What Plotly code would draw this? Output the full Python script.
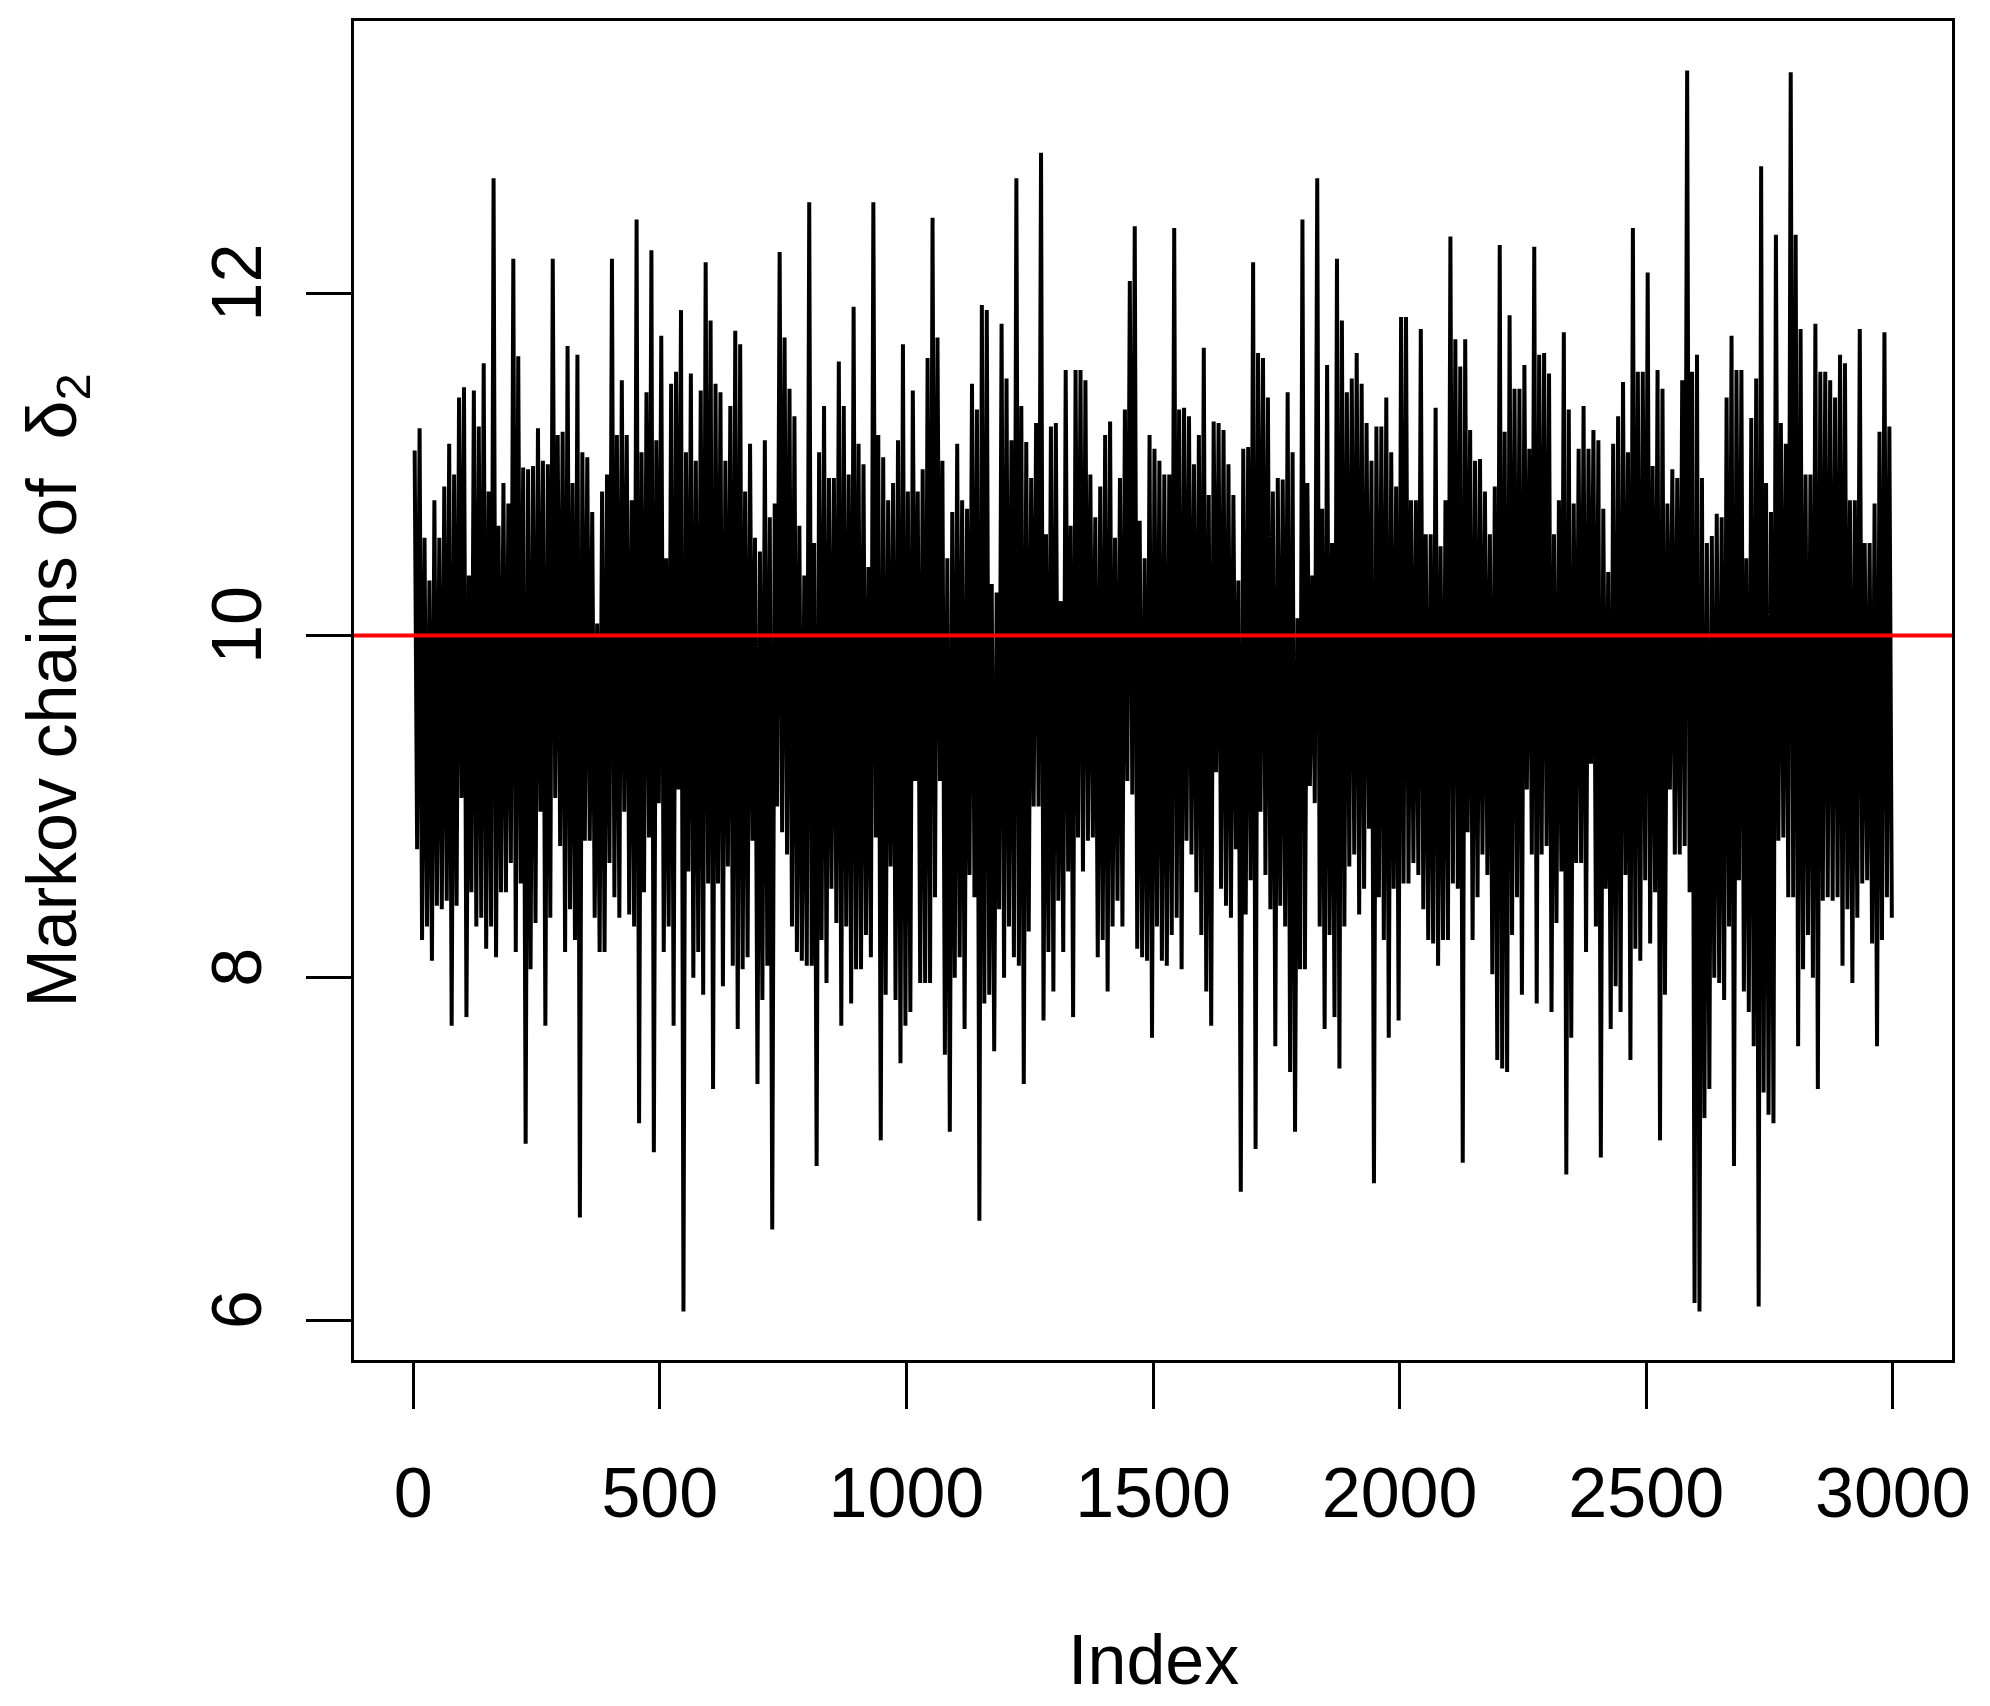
import plotly.graph_objects as go

# Upper excursions (one per block of 10 iterations)
chain_high = [
    11.08, 11.21, 10.57, 10.32, 10.79, 10.57, 10.87, 11.12, 10.94, 11.39,
    11.45, 10.35, 11.43, 11.22, 11.59, 10.84, 12.67, 10.64, 10.89, 10.77,
    12.20, 11.63, 10.98, 10.97, 10.99, 11.21, 11.02, 11.00, 12.20, 11.17,
    11.19, 11.69, 10.89, 11.64, 11.07, 11.04, 10.72, 10.07,
    10.84, 10.94, 12.20, 11.17, 11.49, 11.17, 10.79, 12.43, 11.07, 11.42,
    12.25, 11.14, 11.75, 10.45, 11.47, 11.54, 11.90, 11.07, 11.53, 11.02,
    11.43, 12.18, 11.84, 11.47, 11.42, 11.02, 11.34, 11.78, 11.70, 10.84,
    11.12, 10.57, 10.49, 11.14, 10.69, 10.77, 12.24, 11.74,
    11.44, 11.28, 10.64, 10.35, 12.53, 10.54, 11.07, 11.34, 10.92, 10.92,
    11.60, 11.34, 10.94, 11.92, 11.12, 11.00, 10.40, 12.53, 11.17, 11.04,
    10.79, 10.89, 11.14, 11.70, 10.84, 11.43, 10.84, 10.97, 11.62, 12.44,
    11.74, 11.02, 10.45, 10.72, 11.12, 10.79, 10.74, 11.47,
    11.32, 11.93, 11.90, 10.30, 10.25, 11.82, 11.50, 11.14, 12.67, 11.34,
    11.13, 10.92, 11.24, 12.82, 10.59, 11.22, 11.24, 10.20, 11.55, 10.64,
    11.55, 11.55, 11.49, 10.94, 10.69, 10.87, 11.17, 11.25, 10.57, 10.92,
    11.32, 12.07, 12.39, 10.67, 10.45, 11.17, 11.09, 11.02, 10.94,
    10.94, 12.38, 11.32, 11.33, 11.28, 11.00, 11.17, 11.68, 10.82, 11.25,
    11.24, 11.20, 11.00, 10.82, 10.32, 11.09, 11.10, 12.18, 11.65, 11.62,
    11.39, 10.84, 10.92, 10.91, 11.42, 11.07, 10.10, 12.43, 10.89, 10.35,
    12.67, 10.74, 11.58, 10.54, 12.20, 11.84, 11.42, 11.50, 11.65,
    11.47, 11.24, 11.02, 11.22, 11.22, 11.39, 11.07, 10.87, 11.86, 11.86,
    10.79, 10.79, 11.79, 10.59, 10.59, 11.33, 10.52, 10.79, 12.33, 11.73,
    11.57, 11.73, 11.20, 11.02, 11.03, 10.84, 10.59, 10.87, 12.28, 11.19,
    11.87, 11.44, 11.44, 11.58, 11.09, 12.27, 11.64, 11.65,
    11.53, 10.59, 10.79, 11.77, 11.32, 10.77, 11.09, 11.34, 11.09, 11.20,
    11.14, 10.74, 10.37, 11.12, 11.28, 11.48, 11.07, 12.38, 11.54, 11.54,
    12.12, 10.99, 11.55, 11.44, 10.77, 10.97, 10.92, 11.49, 13.30, 11.54,
    11.64, 10.92, 10.54, 10.58, 10.71, 10.69, 11.39, 11.75, 11.55,
    11.55, 10.45, 11.27, 11.50, 12.74, 10.89, 10.72, 12.34, 11.24, 11.12,
    13.29, 12.34, 11.79, 10.94, 10.94, 11.82, 11.54, 11.54, 11.49, 11.39,
    11.64, 11.59, 10.79, 10.79, 11.79, 10.54, 10.54, 10.77, 11.19, 11.77,
    11.22,
]

# Lower excursions (one per block of 10 iterations)
chain_low = [
    8.75, 8.22, 8.30, 8.10, 8.42, 8.40, 8.45, 7.72, 8.42, 9.05,
    7.77, 8.50, 8.30, 8.35, 8.17, 8.30, 8.12, 8.50, 8.50, 8.67,
    8.15, 8.55, 7.03, 8.05, 8.32, 8.97, 7.72, 8.35, 9.05, 8.77,
    8.15, 8.40, 8.22, 6.60, 8.80, 8.80, 8.35, 8.15,
    8.15, 8.67, 8.47, 8.35, 8.97, 8.37, 8.30, 7.15, 8.50, 8.82,
    6.98, 9.02, 8.15, 8.30, 7.72, 9.10, 6.05, 8.62, 8.00, 8.15,
    7.90, 8.55, 7.35, 8.55, 7.95, 8.65, 8.07, 7.70, 8.05, 8.12,
    8.80, 7.38, 7.87, 8.07, 6.53, 9.00, 8.85, 8.72,
    8.30, 8.15, 8.10, 8.07, 8.07, 6.90, 8.22, 7.97, 8.52, 8.32,
    7.72, 8.30, 7.85, 8.05, 8.05, 8.25, 8.12, 8.82, 7.05, 7.90,
    8.65, 7.87, 7.50, 7.72, 7.80, 9.15, 7.97, 7.97, 7.97, 8.47,
    9.15, 7.55, 7.10, 8.00, 8.12, 7.70, 8.60, 8.47,
    6.58, 7.85, 7.90, 7.57, 8.40, 8.00, 8.30, 8.12, 8.07, 7.38,
    8.27, 9.00, 9.00, 7.75, 8.15, 7.92, 8.45, 8.15, 8.62, 7.77,
    8.82, 8.62, 8.80, 8.82, 8.12, 8.22, 7.92, 8.30, 8.45, 8.30,
    9.15, 9.07, 8.17, 8.12, 8.10, 7.65, 8.30, 8.10, 8.07,
    8.25, 8.35, 8.05, 8.80, 8.72, 8.50, 8.25, 7.92, 7.72, 9.20,
    8.52, 8.42, 8.35, 8.75, 6.75, 8.37, 8.57, 7.00, 8.97, 8.60,
    8.40, 7.60, 8.42, 8.30, 7.45, 7.10, 8.05, 8.05, 9.12, 9.02,
    8.30, 7.70, 8.25, 7.77, 7.47, 8.30, 8.65, 8.72, 8.37,
    8.52, 8.87, 6.80, 8.47, 8.22, 7.65, 8.52, 7.75, 8.55, 8.55,
    8.67, 8.60, 8.40, 8.22, 8.20, 8.07, 8.22, 8.22, 8.55, 8.52,
    6.92, 8.85, 8.22, 8.47, 8.72, 8.60, 8.02, 7.52, 7.47, 7.45,
    8.25, 8.47, 7.90, 9.10, 8.72, 7.85, 8.72, 8.77,
    7.80, 8.32, 8.62, 6.85, 7.65, 8.67, 8.67, 8.15, 9.25, 8.30,
    6.95, 8.52, 7.70, 7.95, 7.80, 8.60, 7.52, 8.17, 8.10, 8.57,
    8.20, 8.50, 7.05, 7.90, 9.10, 8.72, 8.72, 8.77, 8.50, 6.10,
    6.05, 7.18, 7.35, 8.00, 7.97, 7.87, 8.30, 6.90, 8.57,
    7.92, 7.80, 7.60, 6.08, 7.33, 7.20, 7.15, 8.80, 8.82, 8.47,
    8.47, 7.60, 8.05, 8.25, 8.00, 7.35, 8.45, 8.47, 8.45, 8.47,
    8.07, 8.40, 7.97, 8.35, 8.55, 8.57, 8.20, 7.60, 8.22, 8.47,
    8.35,
]

true_value = 10
x_ticks = [0, 500, 1000, 1500, 2000, 2500, 3000]
y_ticks = [6, 8, 10, 12]

# Interleave into a single chain trace
idx, vals = [], []
for k, (h, l) in enumerate(zip(chain_high, chain_low)):
    idx += [10 * k + 3, 10 * k + 8]
    vals += [h, l]

FONT = "Liberation Sans, Arial, Helvetica, sans-serif"

W, H = 1982, 1698
L, R, T, B = 346, 38, 10, 346
PW, PH = W - L - R, H - T - B

fig = go.Figure()
fig.add_trace(go.Scatter(x=idx, y=vals, mode="lines",
                         line=dict(color="black", width=4),
                         showlegend=False, hoverinfo="skip"))

fig.add_shape(type="line", xref="paper", x0=0, x1=1, yref="y",
              y0=true_value, y1=true_value,
              line=dict(color="#ff0000", width=4))

fig.update_layout(
    width=W, height=H,
    margin=dict(l=L, r=R, t=T, b=B),
    paper_bgcolor="white", plot_bgcolor="white",
    font=dict(family=FONT, size=70, color="black"),
    xaxis=dict(range=[-120, 3120], tickvals=x_ticks,
               ticktext=[str(v) for v in x_ticks],
               showgrid=False, zeroline=False,
               showline=True, mirror=True, linecolor="black", linewidth=3,
               ticks="outside", ticklen=46, tickwidth=2.5, tickcolor="black",
               ticklabelstandoff=24),
    yaxis=dict(range=[5.767, 13.589], tickvals=y_ticks,
               ticktext=[str(v) for v in y_ticks], tickangle=-90,
               showgrid=False, zeroline=False,
               showline=True, mirror=True, linecolor="black", linewidth=3,
               ticks="outside", ticklen=45, tickwidth=2.5, tickcolor="black",
               ticklabelstandoff=17),
    annotations=[
        dict(text="Index", xref="paper", yref="paper",
             x=0.5, y=(PH - 1653 + T) / PH, showarrow=False,
             xanchor="center", yanchor="middle",
             font=dict(family=FONT, size=70, color="black")),
        dict(text="Markov chains of  δ<sub>2</sub>", xref="paper", yref="paper",
             x=(48 - L) / PW, y=0.5, showarrow=False, textangle=-90,
             xanchor="center", yanchor="middle",
             font=dict(family=FONT, size=70, color="black")),
    ],
)

fig.write_html("out.html")
